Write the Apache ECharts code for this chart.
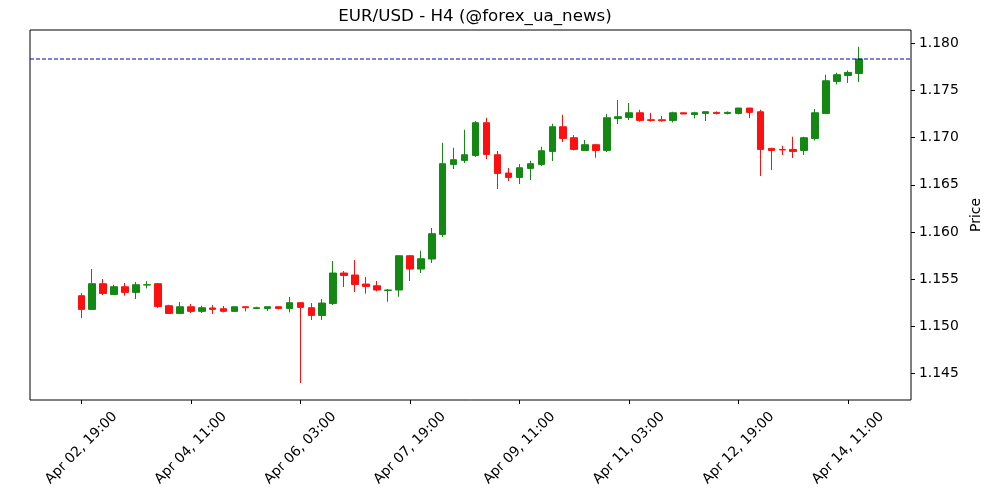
<!DOCTYPE html>
<html>
<head>
<meta charset="utf-8">
<script src="https://cdn.jsdelivr.net/npm/echarts@6/dist/echarts.min.js"></script>
<style>
  html, body { margin: 0; padding: 0; background: #fff; }
  #chart { width: 1000px; height: 500px; }
</style>
</head>
<body>
<div id="chart"></div>
<script>
// EUR/USD H4 candles
const opens = [
  1.15326, 1.15181, 1.15453, 1.15339, 1.15421, 1.15361, 1.15439, 1.15453, 1.15220, 1.15138,
  1.15209, 1.15160, 1.15196, 1.15188, 1.15160, 1.15209, 1.15191, 1.15191, 1.15209, 1.15191,
  1.15252, 1.15199, 1.15117, 1.15244, 1.15566, 1.15545, 1.15449, 1.15431, 1.15382, 1.15386,
  1.15749, 1.15608, 1.15714, 1.15974, 1.16715, 1.16758, 1.16810, 1.17157, 1.16818, 1.16624,
  1.16578, 1.16673, 1.16715, 1.16853, 1.17114, 1.16998, 1.16863, 1.16924, 1.16863, 1.17202,
  1.17213, 1.17262, 1.17188, 1.17188, 1.17181, 1.17262, 1.17244, 1.17255, 1.17266, 1.17255,
  1.17255, 1.17312, 1.17273, 1.16885, 1.16874, 1.16874, 1.16863, 1.16990, 1.17255, 1.17594,
  1.17657, 1.17678
];
const closes = [
  1.15181, 1.15453, 1.15350, 1.15421, 1.15361, 1.15442, 1.15442, 1.15212, 1.15138, 1.15209,
  1.15160, 1.15199, 1.15181, 1.15160, 1.15209, 1.15199, 1.15199, 1.15209, 1.15191, 1.15252,
  1.15202, 1.15117, 1.15248, 1.15566, 1.15540, 1.15445, 1.15424, 1.15386, 1.15386, 1.15749,
  1.15608, 1.15717, 1.15982, 1.16723, 1.16765, 1.16818, 1.17157, 1.16821, 1.16620, 1.16578,
  1.16680, 1.16723, 1.16860, 1.17114, 1.16990, 1.16874, 1.16924, 1.16863, 1.17209, 1.17220,
  1.17262, 1.17181, 1.17181, 1.17178, 1.17262, 1.17249, 1.17262, 1.17273, 1.17255, 1.17266,
  1.17312, 1.17266, 1.16874, 1.16863, 1.16868, 1.16853, 1.16998, 1.17262, 1.17601, 1.17665,
  1.17689, 1.17831
];
const lows = [
  1.15090, 1.15178, 1.15333, 1.15333, 1.15326, 1.15291, 1.15403, 1.15196, 1.15138, 1.15138,
  1.15143, 1.15143, 1.15132, 1.15149, 1.15160, 1.15160, 1.15185, 1.15164, 1.15181, 1.15149,
  1.14402, 1.15069, 1.15069, 1.15227, 1.15418, 1.15365, 1.15347, 1.15371, 1.15262, 1.15315,
  1.15481, 1.15566, 1.15672, 1.15947, 1.16667, 1.16730, 1.16794, 1.16772, 1.16455, 1.16540,
  1.16508, 1.16550, 1.16698, 1.16751, 1.16952, 1.16863, 1.16863, 1.16786, 1.16846, 1.17143,
  1.17185, 1.17167, 1.17167, 1.17167, 1.17160, 1.17249, 1.17202, 1.17175, 1.17244, 1.17244,
  1.17244, 1.17206, 1.16592, 1.16656, 1.16815, 1.16783, 1.16815, 1.16969, 1.17255, 1.17562,
  1.17577, 1.17587
];
const highs = [
  1.15354, 1.15608, 1.15502, 1.15442, 1.15460, 1.15471, 1.15481, 1.15460, 1.15230, 1.15259,
  1.15238, 1.15220, 1.15227, 1.15217, 1.15209, 1.15209, 1.15209, 1.15209, 1.15212, 1.15312,
  1.15255, 1.15248, 1.15291, 1.15693, 1.15587, 1.15703, 1.15524, 1.15481, 1.15397, 1.15749,
  1.15756, 1.15802, 1.16042, 1.16945, 1.16892, 1.17082, 1.17175, 1.17209, 1.16857, 1.16677,
  1.16719, 1.16754, 1.16903, 1.17146, 1.17241, 1.17026, 1.16973, 1.16934, 1.17249, 1.17397,
  1.17365, 1.17294, 1.17262, 1.17227, 1.17273, 1.17262, 1.17273, 1.17273, 1.17276, 1.17276,
  1.17312, 1.17312, 1.17294, 1.16892, 1.16913, 1.17008, 1.17008, 1.17302, 1.17665, 1.17686,
  1.17710, 1.17961
];

// x ticks every 10 bars (40 hours)
const xTickPos = [0, 10, 20, 30, 40, 50, 60, 70];
const xTickLabels = [
  "Apr 02, 19:00", "Apr 04, 11:00", "Apr 06, 03:00", "Apr 07, 19:00",
  "Apr 09, 11:00", "Apr 11, 03:00", "Apr 12, 19:00", "Apr 14, 11:00"
];
const yTicks = [1.145, 1.150, 1.155, 1.160, 1.165, 1.170, 1.175, 1.180];

const xMin = -4.68;
const xMax = 75.75;

const candles = opens.map((o, i) => [i, o, closes[i], lows[i], highs[i]]);
const lastClose = closes[closes.length - 1];

const font = "DejaVu Sans";

const option = {
  animation: false,
  backgroundColor: "#fff",
  title: {
    text: "EUR/USD - H4 (@forex_ua_news)",
    left: 470,
    top: 3,
    textAlign: "center",
    textStyle: {
      fontFamily: font,
      fontSize: 16.7,
      fontWeight: "normal",
      color: "#000",
    },
  },
  grid: {
    left: 30,
    right: 89,
    top: 30,
    bottom: 100,
    show: true,
    borderColor: "#000",
    borderWidth: 1,
    backgroundColor: "transparent",
  },
  xAxis: {
    type: "value",
    min: xMin,
    max: xMax,
    axisLine: { show: false, onZero: false },
    splitLine: { show: false },
    axisTick: {
      show: true,
      length: 4,
      customValues: xTickPos,
      lineStyle: { color: "#000" },
    },
    axisLabel: {
      customValues: xTickPos,
      rotate: 45,
      align: "center",
      verticalAlign: "middle",
      margin: 48,
      fontFamily: font,
      fontSize: 13.9,
      color: "#000",
      formatter: (v) => xTickLabels[xTickPos.indexOf(Math.round(v))] || "",
    },
  },
  yAxis: {
    type: "value",
    position: "right",
    min: 1.14222,
    max: 1.18138,
    scale: true,
    name: "Price",
    nameLocation: "middle",
    nameRotate: 90,
    nameGap: 55,
    nameTextStyle: {
      fontFamily: font,
      fontSize: 13.9,
      color: "#000",
    },
    axisLine: { show: false, onZero: false },
    splitLine: { show: false },
    axisTick: {
      show: true,
      length: 4,
      customValues: yTicks,
      lineStyle: { color: "#000" },
    },
    axisLabel: {
      customValues: yTicks,
      margin: 8,
      fontFamily: font,
      fontSize: 13.9,
      color: "#000",
      formatter: (v) => v.toFixed(3),
    },
  },
  series: [
    {
      type: "candlestick",
      data: candles,
      encode: { x: 0, y: [1, 2, 3, 4] },
      barWidth: 7,
      itemStyle: {
        color: "#138813",
        color0: "#ff1010",
        borderColor: "#138813",
        borderColor0: "#ff1010",
        borderWidth: 1,
      },
    },
    {
      // last close level
      type: "line",
      data: [[xMin, lastClose], [xMax, lastClose]],
      symbol: "none",
      silent: true,
      z: 3,
      lineStyle: { color: "#0000d0", type: [4, 2], width: 1.2 },
    },
  ],
};

const chart = echarts.init(document.getElementById("chart"));
chart.setOption(option);
</script>
</body>
</html>
